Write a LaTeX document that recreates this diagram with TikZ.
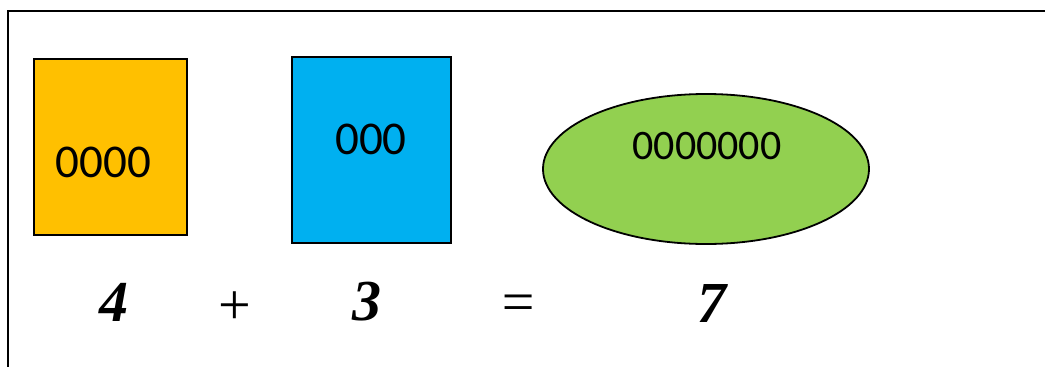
\documentclass[tikz,border=0pt]{standalone}
\usepackage{fontspec}
\usetikzlibrary{shapes.geometric}
\newfontfamily\calib{Carlito}
\newfontfamily\tnr{Liberation Serif}
\definecolor{cyellow}{HTML}{FFC000}
\definecolor{cblue}{HTML}{00B0F0}
\definecolor{cgreen}{HTML}{92D050}
\tikzset{
  boxshape/.style={draw=black, line width=1.8pt, inner sep=0pt, outer sep=0pt},
  intext/.style={inner sep=0pt, font=\calib\fontsize{47}{50}\selectfont},
  numtext/.style={inner sep=0pt, font=\tnr\bfseries\itshape\fontsize{58}{60}\selectfont},
  optext/.style={inner sep=0pt, font=\tnr\fontsize{58}{60}\selectfont}
}
\begin{document}
\begin{tikzpicture}[x=1pt,y=-1pt]
\useasboundingbox (0,0) rectangle (1045,367);
\draw[line width=1.6pt] (8,367) -- (8,11) -- (1045,11);
\node[boxshape, fill=cyellow, minimum width=153pt, minimum height=176pt] (yb) at (110.5,147) {};
\node[boxshape, fill=cblue, minimum width=159pt, minimum height=186pt] (bb) at (371.5,150) {};
\node[boxshape, ellipse, fill=cgreen, minimum width=326pt, minimum height=150pt] (ge) at (706,169) {};
\node[intext] (yt) at (103.5,162.5) {0000};
\node[intext] (bt) at (371,139) {000};
\node[intext, font=\calib\fontsize{42}{45}\selectfont] (gt) at (707,146) {0000000};
\node[numtext] (n4) at (113.5,302) {4};
\node[optext] (plus) at (235,308.5) {+};
\node[numtext] (n3) at (366.5,302) {3};
\node[optext, font=\tnr\itshape\fontsize{58}{60}\selectfont] (eq) at (518,308.5) {=};
\node[numtext] (n7) at (712,303.5) {7};
\end{tikzpicture}
\end{document}
